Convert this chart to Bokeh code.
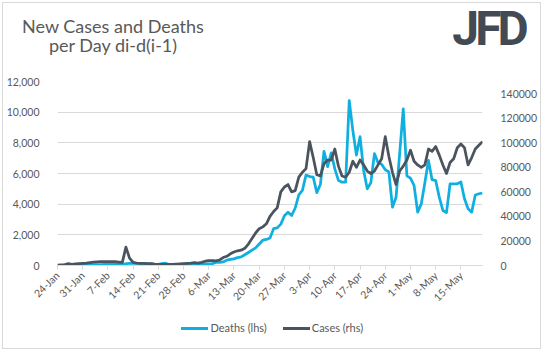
import math
from bokeh.plotting import figure
from bokeh.layouts import column
from bokeh.models import (Range1d, LinearAxis, FixedTicker, NumeralTickFormatter,
                          BasicTickFormatter, Div)
from bokeh.embed import file_html
from bokeh.resources import INLINE

# ---------------- data ----------------
# day index 0 = 24-Jan, 118 = 21-May
deaths = [10, 15, 15, 25, 25, 30, 40, 45, 45, 50,
          60, 65, 65, 70, 75, 85, 90, 100, 110, 120,
          140, 140, 140, 130, 110, 100, 100, 80, 70, 120,
          150, 60, 50, 60, 60, 60, 65, 70, 75, 80,
          100, 100, 110, 120, 200, 200, 230, 350, 400, 430,
          520, 560, 700, 850, 1000, 1150, 1400, 1650, 1700, 1800,
          2400, 2450, 2700, 3250, 3480, 3260, 3750, 4600, 4900, 5900,
          5800, 5760, 4750, 5300, 7450, 6450, 7350, 6300, 5550, 5430,
          5430, 10760, 8800, 7200, 8400, 6200, 5000, 5400, 7300, 6700,
          6600, 6250, 6100, 3800, 4450, 7300, 10220, 5850, 5700, 5220,
          3480, 4020, 5400, 6850, 5600, 5540, 4460, 3590, 3450, 5330,
          5330, 5330, 5450, 4350, 3700, 3480, 4600, 4680, 4720]

cases = [300, 500, 700, 1500, 1000, 1300, 1600, 1800, 2000, 2400,
         2800, 3000, 3100, 3200, 3200, 3200, 3100, 2800, 2500, 15000,
         6000, 2500, 2000, 1800, 1700, 1500, 1500, 1200, 1000, 1000,
         900, 900, 1000, 1200, 1400, 1600, 1800, 2000, 2300, 2000,
         2600, 3500, 4000, 4000, 3800, 4500, 6500, 7500, 9500, 11000,
         12000, 12500, 14000, 17500, 22000, 26500, 30000, 31500, 34000, 40000,
         44000, 47000, 60000, 64000, 66000, 60000, 61000, 72000, 76000, 79000,
         101000, 88000, 74000, 73000, 83000, 86000, 86000, 95000, 81000, 73000,
         72000, 76000, 85000, 80000, 86000, 82000, 77000, 75000, 77000, 82000,
         87000, 105000, 89000, 76000, 66000, 77000, 81000, 86000, 94000, 85000,
         82000, 80000, 82000, 95000, 93000, 97000, 90000, 82000, 75000, 84000,
         87000, 96000, 99000, 96000, 82000, 88000, 95000, 98000, 101000]

days = list(range(len(deaths)))

tick_days = [0, 7, 14, 21, 28, 35, 42, 49, 56, 63, 70, 77, 84, 91, 98, 105, 112]
tick_labels = ["24-Jan", "31-Jan", "7-Feb", "14-Feb", "21-Feb", "28-Feb", "6-Mar",
               "13-Mar", "20-Mar", "27-Mar", "3-Apr", "10-Apr", "17-Apr", "24-Apr",
               "1-May", "8-May", "15-May"]
left_ticks = [0, 2000, 4000, 6000, 8000, 10000, 12000]
right_ticks = [0, 20000, 40000, 60000, 80000, 100000, 120000, 140000]

series_names = ["Deaths (lhs)", "Cases (rhs)"]
title_lines = ["New Cases and Deaths", "per Day di-d(i-1)"]
logo_text = "JFD"

# ---------------- style ----------------
FONT = "Lato"
GREY = "#595959"
LIGHT = "#d9d9d9"
CYAN = "#0fb0e0"
DARK = "#4b535d"

OX, OY = 3, 3          # offset of the whole layout (border drawn just outside)
W, H = 537, 345        # inner size
HH = 58                # header height
LH = 38                # legend strip height
MH = H - HH - LH       # main figure height

# ---------------- header (title + logo) ----------------
def title_line(top, txt):
    return (
        f'<div style="position:absolute;left:0px;top:{top}px;width:220px;height:18px;'
        f'text-align:center;font-family:Lato;font-size:18px;line-height:18px;'
        f'color:{GREY};white-space:nowrap;">{txt}</div>'
    )


header_html = (
    f'<div style="position:relative;width:{W}px;height:{HH}px;overflow:visible;">'
    + title_line(14.3, title_lines[0])
    + title_line(32.5, title_lines[1])
    + f'<div style="position:absolute;left:435.5px;top:2.3px;width:100px;text-align:center;'
    f'font-family:Roboto;font-weight:bold;font-size:48px;line-height:48px;'
    f'letter-spacing:-4px;color:#434a54;white-space:nowrap;">{logo_text}</div>'
    f'</div>'
)
hdr = Div(text=header_html, width=W, height=HH, margin=(0, 0, 0, 0))

# ---------------- main chart ----------------
top_c = OY + HH                   # canvas y of main figure top
FL = 56 - OX
FR = (OX + W) - 483
FT = 81 - top_c
FB = (top_c + MH) - 265

p = figure(width=W, height=MH, output_backend="svg", toolbar_location=None,
           x_range=Range1d(0, 118), y_range=Range1d(0, 12000),
           min_border_left=FL, min_border_right=FR, min_border_top=FT,
           min_border_bottom=FB, margin=(0, 0, 0, 0))
p.outline_line_color = None
p.background_fill_color = "white"
p.border_fill_color = "white"

p.extra_y_ranges = {"cases": Range1d(0, 150000)}

p.xgrid.visible = False
p.ygrid.ticker = FixedTicker(ticks=left_ticks)
p.ygrid.grid_line_color = LIGHT
p.ygrid.grid_line_width = 1

xa = p.xaxis[0]
xa.ticker = FixedTicker(ticks=tick_days)
xa.major_label_overrides = {d: l for d, l in zip(tick_days, tick_labels)}
xa.major_label_orientation = math.pi / 4
xa.axis_line_color = LIGHT
xa.major_tick_line_color = LIGHT
xa.major_tick_out = 4
xa.major_tick_in = 0
xa.minor_tick_line_color = None
xa.major_label_text_font = FONT
xa.major_label_text_font_size = "10.5px"
xa.major_label_text_color = GREY
xa.major_label_standoff = 4

ya = p.yaxis[0]
ya.ticker = FixedTicker(ticks=left_ticks)
ya.formatter = NumeralTickFormatter(format="0,0")
ya.axis_line_color = None
ya.major_tick_line_color = None
ya.minor_tick_line_color = None
ya.major_label_text_font = FONT
ya.major_label_text_font_size = "10.5px"
ya.major_label_text_color = GREY
ya.major_label_standoff = 12

ra = LinearAxis(y_range_name="cases", ticker=FixedTicker(ticks=right_ticks),
                formatter=BasicTickFormatter(use_scientific=False))
ra.axis_line_color = None
ra.major_tick_line_color = None
ra.minor_tick_line_color = None
ra.major_label_text_font = FONT
ra.major_label_text_font_size = "10.5px"
ra.major_label_text_color = GREY
ra.major_label_standoff = 12
p.add_layout(ra, "right")

p.line(days, deaths, line_color=CYAN, line_width=2.75, line_join="round")
p.line(days, cases, y_range_name="cases", line_color=DARK, line_width=2.75,
       line_join="round")

# ---------------- legend strip ----------------
leg_top = OY + HH + MH            # canvas y of legend strip top
cy = 328.3 - leg_top              # legend centre line inside strip


def leg_item(x_line, x_text, color, label):
    return (
        f'<div style="position:absolute;left:{x_line - OX}px;top:{cy - 1.5}px;'
        f'width:27.6px;height:3px;background:{color};"></div>'
        f'<div style="position:absolute;left:{x_text - OX}px;top:{cy - 7.5}px;'
        f'font-family:Lato;font-size:11px;line-height:14px;color:{GREY};'
        f'white-space:nowrap;">{label}</div>'
    )


legend_html = (
    f'<div style="position:relative;width:{W}px;height:{LH}px;">'
    + leg_item(180.7, 210.5, CYAN, series_names[0])
    + leg_item(282.7, 311.8, DARK, series_names[1])
    + '</div>'
)
leg = Div(text=legend_html, width=W, height=LH, margin=(0, 0, 0, 0))

lay = column(hdr, p, leg, spacing=0)
lay.styles = {"margin-left": f"{OX}px", "margin-top": f"{OY}px",
              "outline": "1px solid #d9d9d9", "background-color": "white"}

open("out.html", "w").write(file_html(lay, INLINE))
